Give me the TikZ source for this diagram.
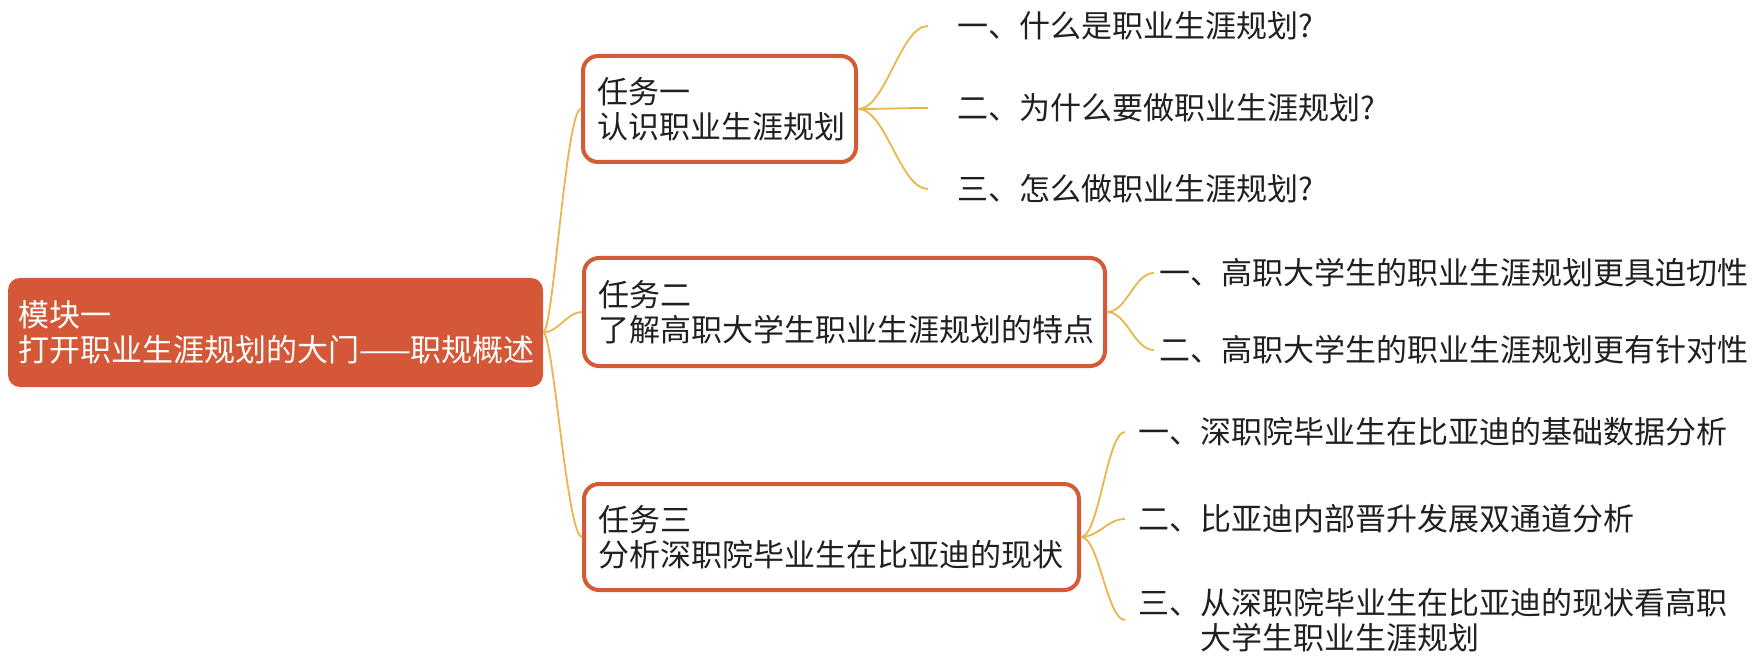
\documentclass[tikz,border=0pt]{standalone}
\usepackage{fontspec}
\newfontfamily\cjk{Noto Sans CJK SC}
\definecolor{rootfill}{HTML}{D45837}
\definecolor{taskline}{HTML}{D55A36}
\definecolor{linkcol}{HTML}{EBB54E}
\definecolor{txtcol}{HTML}{231F20}
\tikzset{
  basefont/.style={font=\cjk\fontsize{31pt}{35pt}\selectfont},
  rootbox/.style={basefont, fill=rootfill, text=white, rounded corners=12pt,
    align=left, inner xsep=10pt, inner ysep=0pt},
  taskbox/.style={basefont, draw=taskline, line width=4pt, fill=white, text=txtcol,
    rounded corners=15pt, align=left, inner xsep=14pt, inner ysep=0pt},
  leaf/.style={basefont, text=txtcol, anchor=west, inner ysep=0pt, align=left},
  link/.style={draw=linkcol, line width=1.8pt}
}
\begin{document}
\begin{tikzpicture}[x=1pt,y=-1pt]
\useasboundingbox (0,0) rectangle (1756,660);
% root
\node[rootbox, minimum width=535pt, minimum height=109pt, text width=515pt] (root) at (275.5,332.5)
  {模块一\\\mbox{打开职业生涯规划的大门——职规概述}};
% tasks
\node[taskbox, minimum height=106pt, text width=245pt] (t1) at (719.5,109)
  {任务一\\\mbox{认识职业生涯规划}};
\node[taskbox, minimum height=108pt, text width=493pt] (t2) at (844.5,312)
  {任务二\\\mbox{了解高职大学生职业生涯规划的特点}};
\node[taskbox, minimum height=106pt, text width=467pt] (t3) at (831.5,537)
  {任务三\\\mbox{分析深职院毕业生在比亚迪的现状}};
% leaves of task 1
\node[leaf, inner xsep=29pt] (l11) at (928,26) {一、什么是职业生涯规划?};
\node[leaf, inner xsep=29pt] (l12) at (928,108) {二、为什么要做职业生涯规划?};
\node[leaf, inner xsep=29pt] (l13) at (928,189) {三、怎么做职业生涯规划?};
% leaves of task 2
\node[leaf, inner xsep=5pt] (l21) at (1154,273) {一、高职大学生的职业生涯规划更具迫切性};
\node[leaf, inner xsep=5pt] (l22) at (1154,350) {二、高职大学生的职业生涯规划更有针对性};
% leaves of task 3
\node[leaf, inner xsep=13pt] (l31) at (1125,432) {一、深职院毕业生在比亚迪的基础数据分析};
\node[leaf, inner xsep=13pt] (l32) at (1125,519) {二、比亚迪内部晋升发展双通道分析};
\node[leaf, inner xsep=13pt] (l33) at (1125,620) {三、从深职院毕业生在比亚迪的现状看高职\\\hspace*{2em}大学生职业生涯规划};
% root links
\draw[link] (root.east) .. controls +(10,0) and +(-15,0) .. (t1.west);
\draw[link] (root.east) .. controls +(15,0) and +(-15,0) .. (t2.west);
\draw[link] (root.east) .. controls +(10,0) and +(-15,0) .. (t3.west);
% task 1 links
\draw[link] (t1.east) .. controls +(28,0) and +(-28,0) .. (l11.west);
\draw[link] (t1.east) .. controls +(28,0) and +(-28,0) .. (l12.west);
\draw[link] (t1.east) .. controls +(28,0) and +(-28,0) .. (l13.west);
% task 2 links
\draw[link] (t2.east) .. controls +(20,0) and +(-20,0) .. (l21.west);
\draw[link] (t2.east) .. controls +(20,0) and +(-20,0) .. (l22.west);
% task 3 links
\draw[link] (t3.east) .. controls +(18,0) and +(-18,0) .. (l31.west);
\draw[link] (t3.east) .. controls +(18,0) and +(-18,0) .. (l32.west);
\draw[link] (t3.east) .. controls +(18,0) and +(-18,0) .. (l33.west);
\end{tikzpicture}
\end{document}
